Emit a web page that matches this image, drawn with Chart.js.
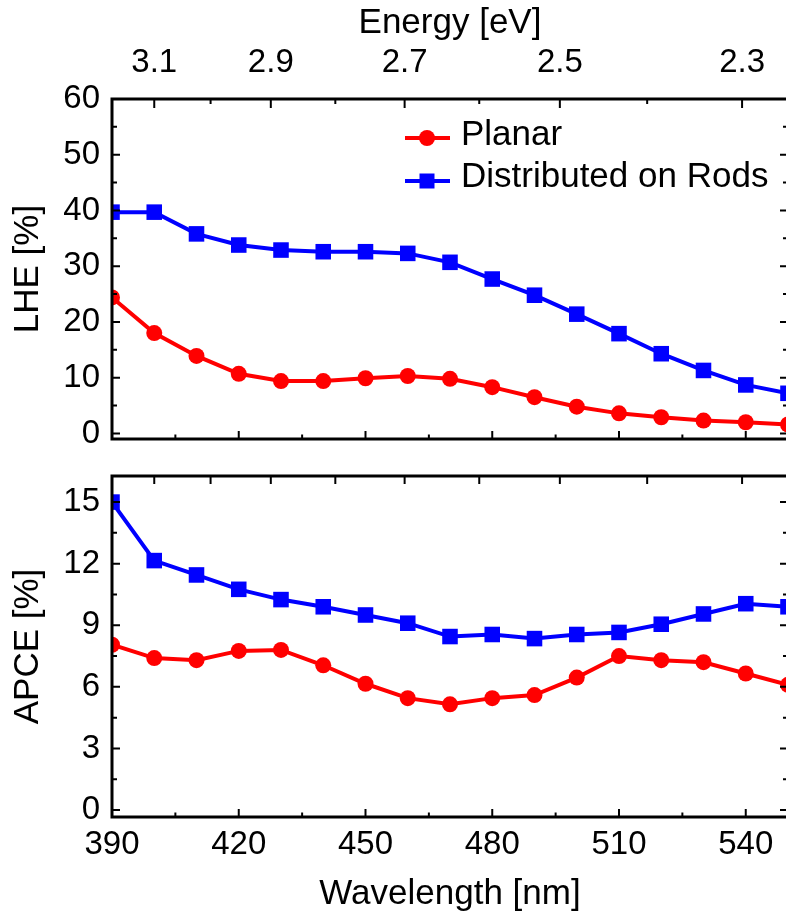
<!DOCTYPE html>
<html>
<head>
<meta charset="utf-8">
<script src="https://cdn.jsdelivr.net/npm/chart.js@4.4.0/dist/chart.umd.min.js"></script>
<style>
  html, body { margin: 0; padding: 0; background: #fff; overflow: hidden; }
  #wrap { position: relative; width: 786px; height: 912px; overflow: hidden; }
  canvas { position: absolute; left: 0; }
  #lheChart { top: 0; }
  #apceChart { top: 450px; }
</style>
</head>
<body>
<div id="wrap">
  <canvas id="lheChart" width="800" height="450"></canvas>
  <canvas id="apceChart" width="800" height="462"></canvas>
</div>
<script>
// ---- data ----
const wavelengths = [390, 400, 410, 420, 430, 440, 450, 460, 470, 480, 490, 500, 510, 520, 530, 540, 550];

const lhePlanar = [24.4, 18.0, 13.9, 10.7, 9.4, 9.4, 9.9, 10.3, 9.8, 8.3, 6.5, 4.8, 3.6, 2.9, 2.3, 2.0, 1.6];
const lheRods   = [39.7, 39.7, 35.8, 33.8, 32.9, 32.6, 32.6, 32.3, 30.7, 27.7, 24.8, 21.4, 17.9, 14.3, 11.3, 8.7, 7.2];

const apcePlanar = [8.05, 7.4, 7.3, 7.75, 7.8, 7.05, 6.15, 5.45, 5.15, 5.45, 5.6, 6.45, 7.5, 7.3, 7.2, 6.65, 6.1];
const apceRods   = [15.0, 12.15, 11.45, 10.75, 10.25, 9.9, 9.5, 9.1, 8.45, 8.55, 8.35, 8.55, 8.65, 9.05, 9.55, 10.05, 9.9];

// axis ticks
const wlMajor = [390, 420, 450, 480, 510, 540];
const wlMinor = [405, 435, 465, 495, 525];
const energyMajor = [3.1, 2.9, 2.7, 2.5, 2.3];
const energyMinor = [3.0, 2.8, 2.6, 2.4];
const lheMajor = [0, 10, 20, 30, 40, 50, 60];
const lheMinor = [5, 15, 25, 35, 45, 55];
const apceMajor = [0, 3, 6, 9, 12, 15];
const apceMinor = [1.5, 4.5, 7.5, 10.5, 13.5];

const HC = 1240; // eV*nm, energy -> wavelength

const RED = '#ff0000';
const BLUE = '#0000ff';
const FONT = "'Liberation Sans', Arial, sans-serif";
const tickFont = { family: FONT, size: 33 };
const titleFont = { family: FONT, size: 35 };

Chart.defaults.color = '#000';

function toPoints(ys) {
    return wavelengths.map((w, i) => ({ x: w, y: ys[i] }));
}

function makeDatasets(planar, rods) {
    return [
        {
            label: 'Planar',
            data: toPoints(planar),
            borderColor: RED,
            backgroundColor: RED,
            borderWidth: 4,
            pointStyle: 'circle',
            pointRadius: 8,
            pointBorderWidth: 0,
            clip: 0
        },
        {
            label: 'Distributed on Rods',
            data: toPoints(rods),
            borderColor: BLUE,
            backgroundColor: BLUE,
            borderWidth: 4,
            pointStyle: 'rect',
            pointRadius: 11,
            pointBorderWidth: 0,
            clip: 0
        }
    ];
}

// keep the plot box exactly where afterFit puts it
function fixPadding(s) {
    s.paddingTop = 0;
    s.paddingBottom = 0;
    s.paddingLeft = 0;
    s.paddingRight = 0;
}

// frame + inward ticks on all four sides
const frameTicksPlugin = {
    id: 'frameTicks',
    afterDatasetsDraw(chart, args, opts) {
        const { ctx, chartArea: a, scales } = chart;
        ctx.save();
        ctx.strokeStyle = '#000';
        ctx.lineWidth = 2;

        const yTick = (vals, len) => vals.forEach(v => {
            const y = scales.y.getPixelForValue(v);
            ctx.beginPath();
            ctx.moveTo(a.left, y); ctx.lineTo(a.left + len, y);
            ctx.moveTo(a.right, y); ctx.lineTo(a.right - len, y);
            ctx.stroke();
        });
        const xTick = (vals, len, top) => vals.forEach(v => {
            const x = scales.x.getPixelForValue(v);
            const y0 = top ? a.top : a.bottom;
            ctx.beginPath();
            ctx.moveTo(x, y0);
            ctx.lineTo(x, top ? y0 + len : y0 - len);
            ctx.stroke();
        });

        yTick(opts.yMajor, 8);
        yTick(opts.yMinor, 5);
        xTick(wlMajor, 8, false);
        xTick(wlMinor, 4.5, false);
        xTick(energyMajor.map(e => HC / e), opts.topMajorLen, true);
        xTick(energyMinor.map(e => HC / e), opts.topMinorLen, true);

        ctx.lineWidth = 3;
        ctx.strokeRect(a.left, a.top, a.right - a.left, a.bottom - a.top);
        ctx.restore();
    }
};

// legend inside the upper panel
const insideLegendPlugin = {
    id: 'insideLegend',
    afterDraw(chart) {
        const { ctx } = chart;
        const rows = [{ y: 138, base: 145 }, { y: 181, base: 187 }];
        ctx.save();
        chart.data.datasets.forEach((ds, i) => {
            const r = rows[i];
            ctx.strokeStyle = ds.borderColor;
            ctx.fillStyle = ds.backgroundColor;
            ctx.lineWidth = 4;
            ctx.beginPath();
            ctx.moveTo(405, r.y);
            ctx.lineTo(450, r.y);
            ctx.stroke();
            ctx.beginPath();
            if (ds.pointStyle === 'rect') {
                ctx.rect(427 - 7.5, r.y - 7.5, 15, 15);
            } else {
                ctx.arc(427, r.y, 8, 0, Math.PI * 2);
            }
            ctx.fill();
            ctx.fillStyle = '#000';
            ctx.font = `35px ${FONT}`;
            ctx.textAlign = 'left';
            ctx.textBaseline = 'alphabetic';
            ctx.fillText(ds.label, 461, r.base);
        });
        ctx.restore();
    }
};

const hidden = { display: false, drawTicks: false };

function xScale(extra) {
    return Object.assign({
        type: 'linear',
        min: 390,
        max: 550,
        grid: hidden,
        border: { display: false }
    }, extra);
}

// ---- upper panel: LHE ----
new Chart(document.getElementById('lheChart'), {
    type: 'line',
    data: { datasets: makeDatasets(lhePlanar, lheRods) },
    options: {
        responsive: false,
        animation: false,
        layout: { padding: { left: 0, right: 12, top: 0, bottom: 0 } },
        plugins: {
            legend: { display: false },
            tooltip: { enabled: false },
            frameTicks: { yMajor: lheMajor, yMinor: lheMinor, topMajorLen: 9, topMinorLen: 5 }
        },
        scales: {
            x: xScale({
                position: 'bottom',
                ticks: { display: false },
                afterFit: s => { s.height = 10; fixPadding(s); }
            }),
            x2: xScale({
                position: 'top',
                afterBuildTicks: s => { s.ticks = energyMajor.map(e => ({ value: HC / e })); },
                ticks: {
                    autoSkip: false,
                    maxRotation: 0,
                    padding: 16,
                    font: tickFont,
                    callback: (v, i) => energyMajor[i].toFixed(1)
                },
                title: { display: true, text: 'Energy [eV]', font: titleFont, padding: { top: 2, bottom: 0 } },
                afterFit: s => { s.height = 99; fixPadding(s); }
            }),
            y: {
                type: 'linear',
                min: -1,
                max: 60,
                grid: hidden,
                border: { display: false },
                afterBuildTicks: s => { s.ticks = lheMajor.map(v => ({ value: v })); },
                ticks: { autoSkip: false, padding: 12, font: tickFont },
                title: { display: true, text: 'LHE [%]', font: titleFont, padding: { top: 7, bottom: 0 } },
                afterFit: s => { s.width = 112; fixPadding(s); }
            }
        }
    },
    plugins: [frameTicksPlugin, insideLegendPlugin]
});

// ---- lower panel: APCE ----
new Chart(document.getElementById('apceChart'), {
    type: 'line',
    data: { datasets: makeDatasets(apcePlanar, apceRods) },
    options: {
        responsive: false,
        animation: false,
        layout: { padding: { left: 0, right: 12, top: 0, bottom: 0 } },
        plugins: {
            legend: { display: false },
            tooltip: { enabled: false },
            frameTicks: { yMajor: apceMajor, yMinor: apceMinor, topMajorLen: 8, topMinorLen: 8 }
        },
        scales: {
            x: xScale({
                position: 'bottom',
                afterBuildTicks: s => { s.ticks = wlMajor.map(v => ({ value: v })); },
                ticks: { autoSkip: false, maxRotation: 0, padding: 8, font: tickFont },
                title: {
                    display: true,
                    text: 'Wavelength [nm]',
                    font: { family: FONT, size: 35, lineHeight: 1 },
                    padding: { top: 0, bottom: 0 }
                },
                afterFit: s => { s.height = 95; fixPadding(s); }
            }),
            x2: xScale({
                position: 'top',
                ticks: { display: false },
                afterFit: s => { s.height = 26; fixPadding(s); }
            }),
            y: {
                type: 'linear',
                min: -0.34,
                max: 16.27,
                grid: hidden,
                border: { display: false },
                afterBuildTicks: s => { s.ticks = apceMajor.map(v => ({ value: v })); },
                ticks: { autoSkip: false, padding: 12, font: tickFont },
                title: { display: true, text: 'APCE [%]', font: titleFont, padding: { top: 7, bottom: 0 } },
                afterFit: s => { s.width = 112; fixPadding(s); }
            }
        }
    },
    plugins: [frameTicksPlugin]
});
</script>
</body>
</html>
